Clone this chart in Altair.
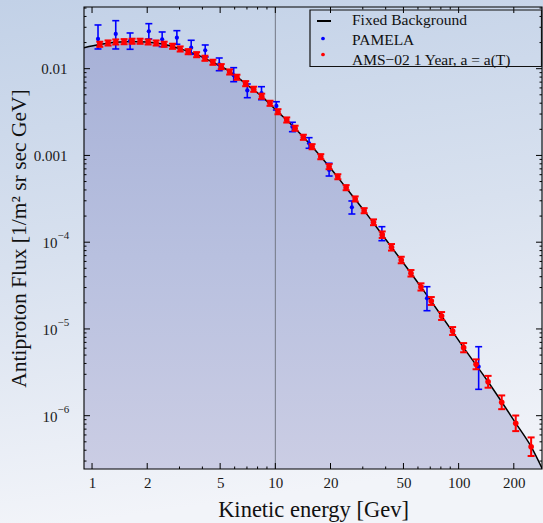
import altair as alt
import pandas as pd
import numpy as np

# ---------------- data ----------------
line_E = [0.904, 1.1, 1.35, 1.65, 2.0, 2.47, 3.03, 3.72, 4.57, 5.64, 6.89, 8.43, 10.3,
          12.8, 15.9, 19.7, 24.3, 30.5, 38.3, 48.6, 62.3, 80.7, 106.5, 144.8, 204.9, 248.6, 290]
line_F = [0.01746, 0.0190, 0.0202, 0.0206, 0.0203, 0.0191, 0.0169, 0.0145, 0.0118, 0.0093,
          0.0067, 0.0048, 0.0032, 0.00206, 0.00126, 0.00074, 0.000425, 0.000231, 0.000122,
          6.23e-5, 3.05e-5, 1.41e-5, 6.1e-6, 2.46e-6, 8.2e-7, 4.4e-7, 2.3e-7]

ams_E = [1.102, 1.223, 1.347, 1.496, 1.654, 1.829, 2.023, 2.237, 2.474, 2.750,
         3.026, 3.346, 3.720, 4.129, 4.566, 5.070, 5.635, 6.175, 6.890, 7.621,
         8.427, 9.355, 10.34, 11.54, 12.82, 14.22, 15.87, 17.70, 19.65, 21.93,
         24.34, 27.27, 30.52, 34.32, 38.29, 43.04, 48.63, 54.95, 62.31, 70.93,
         80.74, 92.73, 106.5, 124.5, 144.8, 171.8, 204.9, 248.6]
ams_F = [0.01911, 0.01978, 0.02032, 0.02048, 0.02070, 0.02070, 0.02032, 0.01978, 0.01911, 0.01812,
         0.01687, 0.01570, 0.01450, 0.01318, 0.01185, 0.01055, 0.00916, 0.00796, 0.00672, 0.00579,
         0.00481, 0.00399, 0.00319, 0.002562, 0.002056, 0.001619, 0.001261, 0.000967, 0.000742, 0.000569,
         0.000425, 0.000315, 0.0002307, 0.0001696, 0.0001220, 8.73e-5, 6.23e-5, 4.38e-5, 3.05e-5, 2.10e-5,
         1.41e-5, 9.47e-6, 6.08e-6, 3.91e-6, 2.46e-6, 1.427e-6, 8.17e-7, 4.39e-7]
ams_err = [0.07] * 33 + [0.08, 0.09, 0.09, 0.09, 0.09, 0.10, 0.11, 0.11, 0.11,
                         0.13, 0.14, 0.17, 0.20, 0.23, 0.28]

pam_E = [1.078, 1.347, 1.613, 2.041, 2.413, 2.903, 3.475, 4.145, 4.943, 5.926,
         7.031, 8.406, 10.13, 12.39, 15.28, 19.65, 26.16, 38.14, 67.20, 128.6]
pam_F = [0.02200, 0.02512, 0.02086, 0.02698, 0.02182, 0.02277, 0.01746, 0.01630, 0.01124, 0.00839,
         0.00561, 0.00521, 0.00372, 0.002145, 0.001380, 6.80e-4, 2.525e-4, 1.211e-4, 2.256e-5, 3.67e-6]
pam_hi = [0.03190, 0.03575, 0.02579, 0.03302, 0.02649, 0.02742, 0.02125, 0.01876, 0.01328, 0.01027,
          0.00666, 0.00620, 0.00416, 0.002411, 0.001602, 8.12e-4, 2.985e-4, 1.509e-4, 3.069e-5, 6.24e-6]
pam_lo = [0.01687, 0.01687, 0.01673, 0.02200, 0.01793, 0.01911, 0.01466, 0.01364, 0.00948, 0.00708,
          0.00463, 0.00439, 0.00334, 0.001879, 0.001209, 5.79e-4, 2.113e-4, 1.041e-4, 1.623e-5, 2.014e-6]

x_major = [1, 2, 5, 10, 20, 50, 100, 200]
x_minor = [3, 4, 6, 7, 8, 9, 30, 40, 60, 70, 80, 90]
y_major = [1e-2, 1e-3, 1e-4, 1e-5, 1e-6]
y_major_labels = ["0.01", "0.001", "10^\u22124", "10^\u22125", "10^\u22126"]
y_minor = [m * 10.0 ** k for k in range(-7, -1) for m in range(2, 10)]

legend_labels = ["Fixed Background", "PAMELA", "AMS\u221202 1 Year, a = a(T)"]
x_title = "Kinetic energy [Gev]"
y_title = "Antiproton Flux  [1/m\u00b2 sr sec GeV]"

# ---------------- layout ----------------
W, H = 458, 462
PADL, PADT, PADR, PADB = 84, 7, 1, 54
FONT = "Liberation Serif"
XDOM = [0.904, 285]
YDOM = [2.43e-7, 0.0514]
y_minor = [v for v in y_minor if YDOM[0] < v < YDOM[1]]

xscale = alt.Scale(type="log", domain=XDOM, nice=False)
yscale = alt.Scale(type="log", domain=YDOM, nice=False)

# plain labels go on the axis; power-of-ten labels are drawn as base + raised exponent
plain = [(v, lab) for v, lab in zip(y_major, y_major_labels) if "^" not in lab]
powers = [(v, lab.split("^")[0], lab.split("^")[1]) for v, lab in zip(y_major, y_major_labels) if "^" in lab]

label_expr = " : ".join(
    f"round(log(datum.value)/LN10) == {int(round(np.log10(v)))} ? '{lab}'" for v, lab in plain
) + " : ''"

xaxis = alt.Axis(values=x_major, format="~g", title=x_title, ticks=False, tickSize=0,
                 domain=False, grid=False, labelFont=FONT, labelFontSize=15,
                 labelColor="#1a1a1a", labelPadding=6, labelFlush=False, labelOverlap=False,
                 titleFont=FONT, titleFontSize=22.5, titleFontWeight="normal",
                 titleColor="#111111", titlePadding=8, zindex=1)
yaxis = alt.Axis(values=y_major, labelExpr=label_expr, title=y_title, ticks=False, tickSize=0,
                 domain=False, grid=False, labelFont=FONT, labelFontSize=15,
                 labelColor="#1a1a1a", labelPadding=17, labelFlush=False, labelOverlap=False,
                 titleFont=FONT, titleFontSize=21.5, titleFontWeight="normal",
                 titleColor="#111111", titlePadding=3, zindex=1)


def X(field="E"):
    return alt.X(f"{field}:Q", scale=xscale, axis=xaxis)


def Y(field="F"):
    return alt.Y(f"{field}:Q", scale=yscale, axis=yaxis)


one = pd.DataFrame({"k": [0]})

line_df = pd.DataFrame({"E": line_E, "F": line_F})
ams_df = pd.DataFrame({"E": ams_E, "F": ams_F, "e": ams_err})
ams_df["lo"] = ams_df["F"] / (1 + ams_df["e"])
ams_df["hi"] = ams_df["F"] * (1 + ams_df["e"])
pam_df = pd.DataFrame({"E": pam_E, "F": pam_F, "lo": pam_lo, "hi": pam_hi})
pow_df = pd.DataFrame({"F": [p[0] for p in powers], "base": [p[1] for p in powers],
                       "exp": [p[2] for p in powers]})

# background gradient over the whole picture
bg = alt.Chart(one).mark_rect(
    clip=False,
    color=alt.Gradient(gradient="linear", x1=0, x2=0.15, y1=0, y2=1,
                       stops=[alt.GradientStop(color="#c2d1e7", offset=0),
                              alt.GradientStop(color="#d8e1ef", offset=0.5),
                              alt.GradientStop(color="#f2f4f9", offset=1)]),
).encode(x=alt.value(-PADL), x2=alt.value(W + PADR), y=alt.value(-PADT), y2=alt.value(H + PADB))

area = alt.Chart(line_df).mark_area(
    clip=True, interpolate="monotone", opacity=1,
    color=alt.Gradient(gradient="linear", x1=0, x2=0, y1=0, y2=1,
                       stops=[alt.GradientStop(color="#a7b1d7", offset=0),
                              alt.GradientStop(color="#b8c0df", offset=0.5),
                              alt.GradientStop(color="#cbcde4", offset=1)]),
).encode(x=X(), y=Y(), y2=alt.datum(YDOM[0]))

grid10 = alt.Chart(pd.DataFrame({"E": [10]})).mark_rule(color="#737785", strokeWidth=1).encode(
    x=X(), y=alt.value(0), y2=alt.value(H))

line = alt.Chart(line_df).mark_line(clip=True, interpolate="monotone", color="black",
                                    strokeWidth=1.5).encode(x=X(), y=Y())

# PAMELA (blue)
pam_bar = alt.Chart(pam_df).mark_rule(color="#0000ff", strokeWidth=1.6).encode(
    x=X(), y=Y("lo"), y2="hi:Q")
pam_cap_lo = alt.Chart(pam_df).mark_tick(color="#0000ff", orient="horizontal", size=7,
                                         thickness=1.6, opacity=1).encode(x=X(), y=Y("lo"))
pam_cap_hi = alt.Chart(pam_df).mark_tick(color="#0000ff", orient="horizontal", size=7,
                                         thickness=1.6, opacity=1).encode(x=X(), y=Y("hi"))
pam_pt = alt.Chart(pam_df).mark_point(filled=True, color="#0000ff", size=18, opacity=1).encode(
    x=X(), y=Y())

# AMS-02 (red)
ams_bar = alt.Chart(ams_df).mark_rule(color="#ff0000", strokeWidth=2).encode(
    x=X(), y=Y("lo"), y2="hi:Q")
ams_cap_lo = alt.Chart(ams_df).mark_tick(color="#ff0000", orient="horizontal", size=7,
                                         thickness=2, opacity=1).encode(x=X(), y=Y("lo"))
ams_cap_hi = alt.Chart(ams_df).mark_tick(color="#ff0000", orient="horizontal", size=7,
                                         thickness=2, opacity=1).encode(x=X(), y=Y("hi"))
ams_pt = alt.Chart(ams_df).mark_point(filled=True, color="#ff0000", size=32, opacity=1).encode(
    x=X(), y=Y())

# inward ticks on all four sides
MAJ, MIN = 6, 2.5


def xtick_layers(vals, ln):
    d = pd.DataFrame({"E": vals})
    b = alt.Chart(d).mark_rule(color="black", strokeWidth=1).encode(
        x=X(), y=alt.value(H), y2=alt.value(H - ln))
    t = alt.Chart(d).mark_rule(color="black", strokeWidth=1).encode(
        x=X(), y=alt.value(0), y2=alt.value(ln))
    return [b, t]


def ytick_layers(vals, ln):
    d = pd.DataFrame({"F": vals})
    l = alt.Chart(d).mark_rule(color="black", strokeWidth=1).encode(
        y=Y(), x=alt.value(0), x2=alt.value(ln))
    r = alt.Chart(d).mark_rule(color="black", strokeWidth=1).encode(
        y=Y(), x=alt.value(W), x2=alt.value(W - ln))
    return [l, r]


ticks = (xtick_layers(x_major, MAJ) + xtick_layers(x_minor, MIN)
         + ytick_layers(y_major, MAJ) + ytick_layers(y_minor, MIN))

frame = alt.Chart(one).mark_rect(fillOpacity=0, stroke="black", strokeWidth=1.1).encode(
    x=alt.value(0), x2=alt.value(W), y=alt.value(0), y2=alt.value(H))

# power-of-ten tick labels (base + superscript exponent)
pow_base = alt.Chart(pow_df).mark_text(font=FONT, fontSize=15, align="right", baseline="middle",
                                       color="#1a1a1a", dy=1).encode(
    y=Y(), x=alt.value(-26.5), text="base:N")
pow_exp = alt.Chart(pow_df).mark_text(font=FONT, fontSize=11, align="left", baseline="middle",
                                      color="#1a1a1a", dy=-6).encode(
    y=Y(), x=alt.value(-26.5), text="exp:N")

# manual legend
leg_box = alt.Chart(one).mark_rect(fillOpacity=0, stroke="#111111", strokeWidth=1.2).encode(
    x=alt.value(226), x2=alt.value(457.5), y=alt.value(3), y2=alt.value(59.5))
leg_line = alt.Chart(one).mark_rule(color="black", strokeWidth=2).encode(
    x=alt.value(233), x2=alt.value(247), y=alt.value(14))
leg_blue = alt.Chart(one).mark_point(filled=True, color="#0000ff", size=14, opacity=1).encode(
    x=alt.value(239), y=alt.value(31.5))
leg_red = alt.Chart(one).mark_point(filled=True, color="#ff0000", size=14, opacity=1).encode(
    x=alt.value(239), y=alt.value(47.5))
leg_texts = [
    alt.Chart(one).mark_text(text=lab, font=FONT, fontSize=15.5, align="left",
                             baseline="alphabetic", color="#111111").encode(
        x=alt.value(268), y=alt.value(yy))
    for lab, yy in zip(legend_labels, [17.5, 38, 58])
]

chart = alt.layer(
    bg, area, grid10, line,
    pam_bar, pam_cap_lo, pam_cap_hi, pam_pt,
    ams_bar, ams_cap_lo, ams_cap_hi, ams_pt,
    *ticks, frame, pow_base, pow_exp,
    leg_box, leg_line, leg_blue, leg_red, *leg_texts,
).properties(
    width=W, height=H,
    autosize=alt.AutoSizeParams(type="none"),
    padding={"left": PADL, "top": PADT, "right": PADR, "bottom": PADB},
    background="#dbe3f0",
).configure_view(strokeWidth=0)

chart.save("out.html", embed_options={"renderer": "svg", "actions": False})
